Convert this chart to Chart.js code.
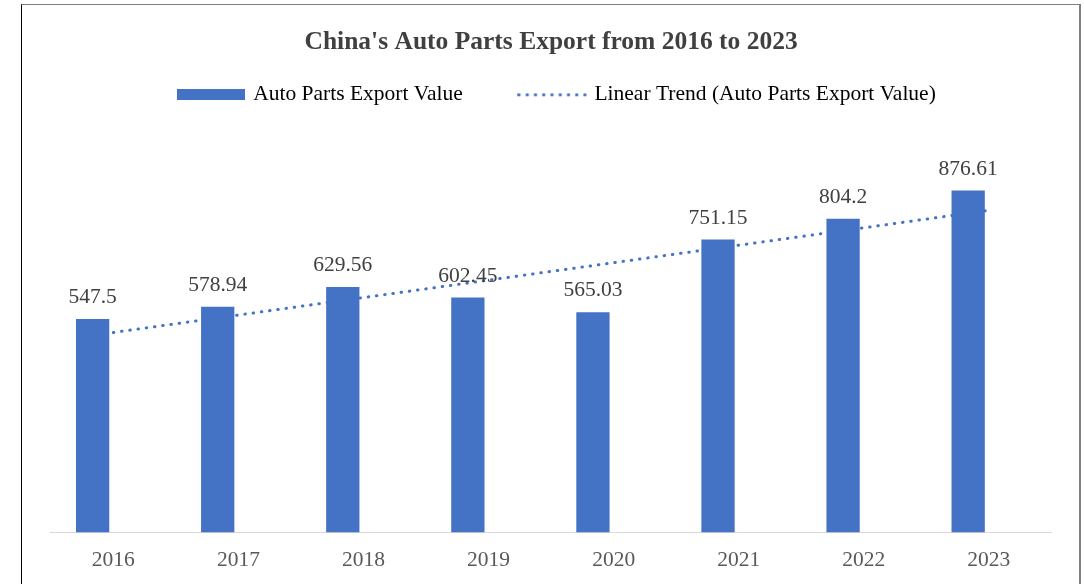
<!DOCTYPE html>
<html>
<head>
<meta charset="utf-8">
<title>China's Auto Parts Export from 2016 to 2023</title>
<script src="https://cdn.jsdelivr.net/npm/chart.js@4"></script>
<style>
    html, body { margin: 0; padding: 0; background: #fff; }
    body { width: 1084px; height: 584px; position: relative; overflow: hidden; }
    #exportChart { position: absolute; left: 22px; top: 5px; }
    #frame {
        position: absolute; left: 21px; top: 4px; width: 1057px; height: 620px;
        border-left: 1px solid #000; border-top: 1px solid #7f7f7f; border-right: 2px solid #808080;
        pointer-events: none;
    }
</style>
</head>
<body>
<canvas id="exportChart" width="1058" height="583"></canvas>
<div id="frame"></div>

<script>
// --- DONNÉES ---
const years = ['2016', '2017', '2018', '2019', '2020', '2021', '2022', '2023'];
const exportValues = [547.5, 578.94, 629.56, 602.45, 565.03, 751.15, 804.2, 876.61];
// Série vide : réserve la 2e place du groupe (les barres restent décalées à gauche)
const emptySeries = [null, null, null, null, null, null, null, null];
// Tendance linéaire : extrémités seulement (1er et dernier point)
const trendValues = [513, null, null, null, null, null, null, 826];

const barLabel = 'Auto Parts Export Value';
const trendLabel = 'Linear Trend (Auto Parts Export Value)';

const BLUE = '#4472C4';
const SERIF = '"Liberation Serif", "Times New Roman", serif';
const FONT_SIZE = 21.5;
const LEGEND_SHIFT = 6.5; // légende un peu décalée à droite du titre

Chart.defaults.font.family = SERIF;

// =============================================================================
// 1. PICTOS DE LÉGENDE (rectangle plein + ligne pointillée)
// =============================================================================

function makeBarSwatch() {
    const c = document.createElement('canvas');
    c.width = 68; c.height = 11;
    const g = c.getContext('2d');
    g.fillStyle = BLUE;
    g.fillRect(0, 0, 68, 11);
    return c;
}

function makeDotSwatch() {
    const c = document.createElement('canvas');
    c.width = 70; c.height = 5;
    const g = c.getContext('2d');
    g.strokeStyle = BLUE;
    g.lineWidth = 3;
    g.lineCap = 'round';
    g.setLineDash([0.5, 7.75]);
    g.beginPath();
    g.moveTo(1.5, 2.5);
    g.lineTo(68.5, 2.5);
    g.stroke();
    return c;
}

const barSwatch = makeBarSwatch();
const dotSwatch = makeDotSwatch();

// =============================================================================
// 2. PLUGINS (étiquettes de valeur + décalage légende)
// =============================================================================

const valueLabels = {
    id: 'valueLabels',
    afterDatasetsDraw(chart) {
        const ctx = chart.ctx;
        const meta = chart.getDatasetMeta(0);
        ctx.save();
        ctx.font = FONT_SIZE + 'px ' + SERIF;
        ctx.fillStyle = '#404040';
        ctx.textAlign = 'center';
        ctx.textBaseline = 'alphabetic';
        meta.data.forEach((bar, i) => {
            ctx.fillText(String(exportValues[i]), bar.x, bar.y - 16);
        });
        ctx.restore();
    }
};

const legendShift = {
    id: 'legendShift',
    afterLayout(chart) {
        const lg = chart.legend;
        if (!lg) return;
        lg.left += LEGEND_SHIFT;
        lg.right += LEGEND_SHIFT;
    }
};

// =============================================================================
// 3. GRAPHIQUE
// =============================================================================

new Chart(document.getElementById('exportChart'), {
    data: {
        labels: years,
        datasets: [
            {
                type: 'bar',
                label: barLabel,
                data: exportValues,
                backgroundColor: BLUE,
                categoryPercentage: 0.662,
                barPercentage: 0.804,
                order: 0
            },
            {
                type: 'bar',
                label: '',
                data: emptySeries,
                backgroundColor: 'transparent',
                categoryPercentage: 0.662,
                barPercentage: 0.804,
                order: 0
            },
            {
                type: 'line',
                label: trendLabel,
                data: trendValues,
                spanGaps: true,
                borderColor: BLUE,
                borderWidth: 3,
                borderDash: [0.5, 7.8],
                borderCapStyle: 'round',
                pointRadius: 0,
                tension: 0,
                fill: false,
                order: 1
            }
        ]
    },
    options: {
        responsive: false,
        animation: false,
        events: [],
        layout: { padding: { left: 28.8, right: 28.6, top: 0, bottom: 0.8 } },
        plugins: {
            title: {
                display: true,
                text: "China's Auto Parts Export from 2016 to 2023",
                color: '#404040',
                font: { size: 25.5, weight: 'bold' },
                padding: { top: 21.7, bottom: -31.25 }
            },
            legend: {
                position: 'top',
                labels: {
                    usePointStyle: true,
                    pointStyleWidth: 63,
                    padding: 58,
                    color: '#595959',
                    font: { size: FONT_SIZE },
                    generateLabels: () => [
                        { text: barLabel, pointStyle: barSwatch, datasetIndex: 0, lineWidth: 0, hidden: false },
                        { text: trendLabel, pointStyle: dotSwatch, datasetIndex: 2, lineWidth: 0, hidden: false }
                    ]
                }
            },
            tooltip: { enabled: false }
        },
        scales: {
            x: {
                grid: { display: false, drawTicks: false },
                border: { color: '#d9d9d9', width: 1 },
                ticks: { color: '#595959', font: { size: FONT_SIZE }, padding: 14.4 }
            },
            y: {
                display: false,
                min: 0,
                max: 1069
            }
        }
    },
    plugins: [valueLabels, legendShift]
});
</script>
</body>
</html>
